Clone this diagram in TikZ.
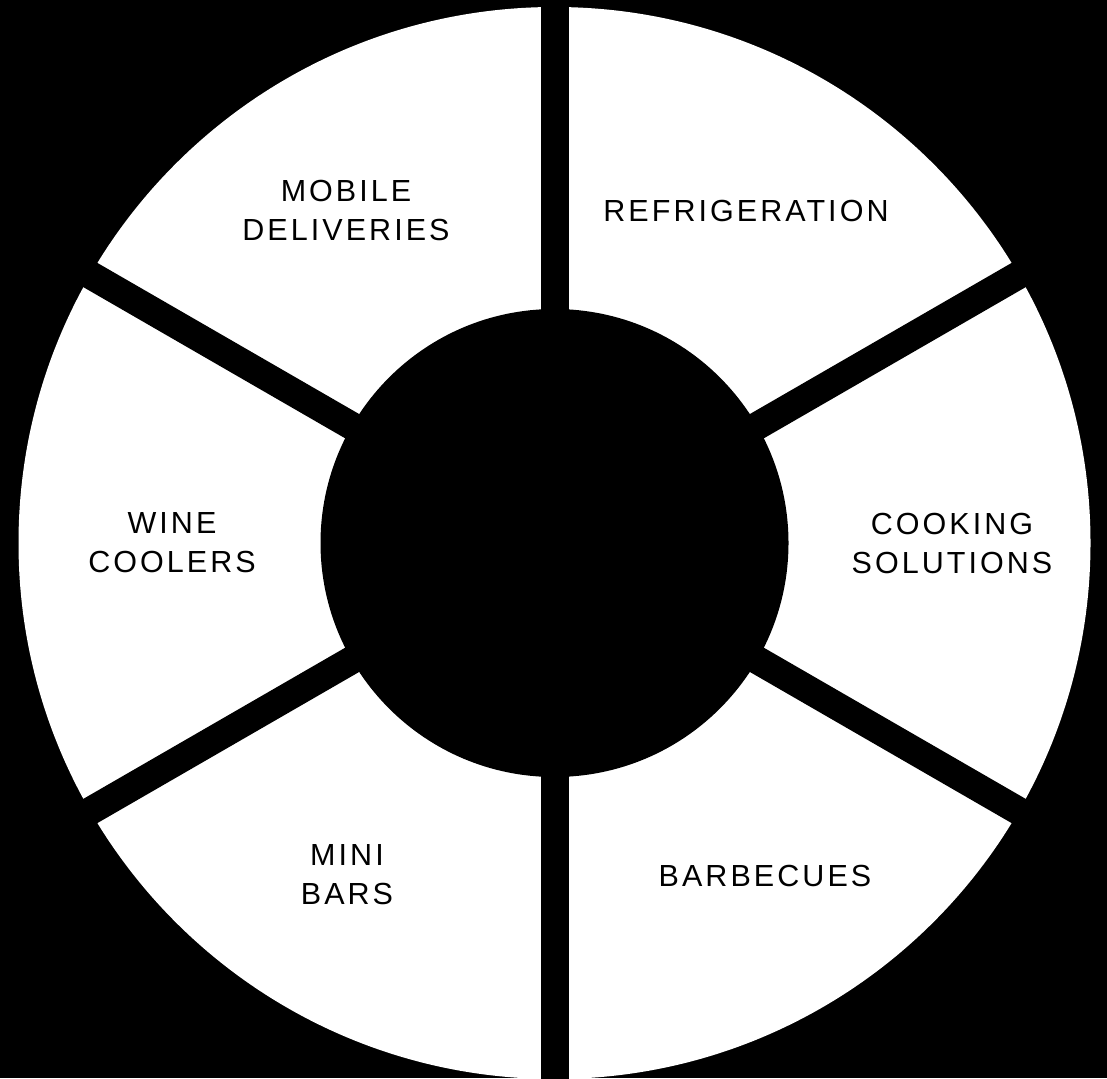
\documentclass[tikz,border=0pt]{standalone}
\usepackage{fontspec}
\setmainfont{Liberation Sans}[LetterSpace=10]
\begin{document}
\begin{tikzpicture}[x=1pt,y=-1pt,
  lbl/.style={align=center,text=black,font=\fontsize{30.5}{39}\selectfont,inner sep=0pt},
  gap/.style={line width=28pt,black}]
\fill[black] (0,0) rectangle (1107,1078);
\useasboundingbox (0,0) rectangle (1107,1078);
\coordinate (c) at (554.5,543);
\fill[white] (c) circle[radius=536];
\foreach \a in {90,30,-30,-90,210,150}
  \draw[gap] (c) -- ++(\a:560);
\fill[black] (c) circle[radius=234];
\node[lbl] (mobile) at (346,210) {MOBILE\\DELIVERIES};
\node[lbl] (refr) at (746,211) {REFRIGERATION};
\node[lbl] (cook) at (952,543) {COOKING\\SOLUTIONS};
\node[lbl] (wine) at (172,543) {WINE\\COOLERS};
\node[lbl] (mini) at (347,875) {MINI\\BARS};
\node[lbl] (bbq) at (765,876) {BARBECUES};
\end{tikzpicture}
\end{document}
